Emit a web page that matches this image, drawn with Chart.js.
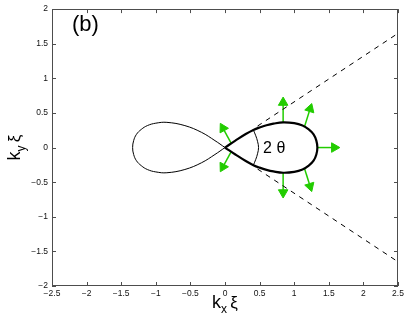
<!DOCTYPE html>
<html>
<head>
<meta charset="utf-8">
<script src="https://cdn.jsdelivr.net/npm/chart.js@4.4.1/dist/chart.umd.min.js"></script>
<style>
  html, body { margin: 0; padding: 0; background: #ffffff; }
  #wrap { width: 407px; height: 320px; }
</style>
</head>
<body>
<div id="wrap"><canvas id="c" width="407" height="320"></canvas></div>
<script>
// ---- Data ----
const xTickValues = [-2.5, -2, -1.5, -1, -0.5, 0, 0.5, 1, 1.5, 2, 2.5];
const yTickValues = [-2, -1.5, -1, -0.5, 0, 0.5, 1, 1.5, 2];

// left lobe (thin)
const leftLobeX = [0, -0.145, -0.34, -0.58, -0.84, -1.0, -1.12, -1.21, -1.28, -1.32, -1.335, -1.32, -1.28, -1.21, -1.12, -1.0, -0.84, -0.58, -0.34, -0.145, 0];
const leftLobeY = [0, 0.10, 0.22, 0.317, 0.364, 0.352, 0.318, 0.262, 0.19, 0.10, 0, -0.10, -0.19, -0.262, -0.318, -0.352, -0.364, -0.317, -0.22, -0.10, 0];

// right lobe (bold)
const rightLobeX = [0, 0.15, 0.30, 0.41, 0.50, 0.60, 0.70, 0.84, 1.00, 1.12, 1.21, 1.28, 1.32, 1.335, 1.32, 1.28, 1.21, 1.12, 1.00, 0.84, 0.70, 0.60, 0.50, 0.41, 0.30, 0.15, 0];
const rightLobeY = [0, 0.10, 0.195, 0.254, 0.29, 0.322, 0.345, 0.364, 0.352, 0.318, 0.262, 0.19, 0.10, 0, -0.10, -0.19, -0.262, -0.318, -0.352, -0.364, -0.345, -0.322, -0.29, -0.254, -0.195, -0.10, 0];

// dashed tangent lines
const upperDashX = [0.47, 2.5];
const upperDashY = [0.31, 1.65];
const lowerDashX = [0.47, 2.5];
const lowerDashY = [-0.31, -1.65];

// angle arc "2 theta"
const arcX = [0.41, 0.445, 0.47, 0.485, 0.47, 0.445, 0.41];
const arcY = [0.254, 0.17, 0.09, 0, -0.09, -0.17, -0.254];

// green normal arrows: base on the curve, head position
const arrowBaseX = [0.09, 0.09, 0.84, 0.84, 1.15, 1.15, 1.335];
const arrowBaseY = [0.06, -0.06, 0.364, -0.364, 0.305, -0.305, 0];
const arrowHeadX = [-0.03, -0.03, 0.84, 0.84, 1.23, 1.23, 1.58];
const arrowHeadY = [0.28, -0.28, 0.65, -0.65, 0.56, -0.56, 0];

const panelLabel = '(b)';
const angleLabel = '2 θ';

// ---- Build datasets ----
const pts = (xs, ys) => xs.map((x, i) => ({ x: x, y: ys[i] }));
const GREEN = '#22cc00';

const datasets = [];
datasets.push({ data: pts(leftLobeX, leftLobeY), showLine: true, borderColor: '#000', borderWidth: 1, pointRadius: 0, tension: 0.4, order: 2 });
datasets.push({ data: pts(rightLobeX, rightLobeY), showLine: true, borderColor: '#000', borderWidth: 2.2, pointRadius: 0, tension: 0.4, order: 1 });
datasets.push({ data: pts(upperDashX, upperDashY), showLine: true, borderColor: '#000', borderWidth: 1, borderDash: [5, 5], pointRadius: 0, order: 3 });
datasets.push({ data: pts(lowerDashX, lowerDashY), showLine: true, borderColor: '#000', borderWidth: 1, borderDash: [5, 5], pointRadius: 0, order: 3 });
datasets.push({ data: pts(arcX, arcY), showLine: true, borderColor: '#000', borderWidth: 1, pointRadius: 0, tension: 0.4, order: 3 });

for (let i = 0; i < arrowBaseX.length; i++) {
  datasets.push({
    data: [{ x: arrowBaseX[i], y: arrowBaseY[i] }, { x: arrowHeadX[i], y: arrowHeadY[i] }],
    showLine: true,
    borderColor: GREEN,
    borderWidth: 1.5,
    pointStyle: 'triangle',
    pointRadius: (ctx) => ctx.dataIndex === 1 ? 5.5 : 0,
    pointBackgroundColor: GREEN,
    pointBorderColor: GREEN,
    pointBorderWidth: 1,
    rotation: (ctx) => {
      const ch = ctx.chart;
      const d = ch.data.datasets[ctx.datasetIndex].data;
      const sx = ch.scales.x, sy = ch.scales.y;
      const dx = sx.getPixelForValue(d[1].x) - sx.getPixelForValue(d[0].x);
      const dy = sy.getPixelForValue(d[1].y) - sy.getPixelForValue(d[0].y);
      return Math.atan2(dx, -dy) * 180 / Math.PI;
    },
    order: 4
  });
}

const FONT = '"Liberation Sans", Arial, Helvetica, sans-serif';
const fmt = (v) => (v < 0 ? '\u2212' : '') + String(Math.abs(v));

// plugin: frame, inward ticks, text annotations
const decor = {
  id: 'decor',
  beforeDatasetsDraw(chart) {
    const { ctx, chartArea: a, scales: { x, y } } = chart;
    ctx.save();
    ctx.strokeStyle = '#4d4d4d';
    ctx.lineWidth = 1;
    ctx.beginPath();
    const L = 4;
    x.ticks.forEach(t => {
      const px = Math.round(x.getPixelForValue(t.value)) + 0.5;
      ctx.moveTo(px, a.bottom); ctx.lineTo(px, a.bottom - L);
      ctx.moveTo(px, a.top); ctx.lineTo(px, a.top + L);
    });
    y.ticks.forEach(t => {
      const py = Math.round(y.getPixelForValue(t.value)) + 0.5;
      ctx.moveTo(a.left, py); ctx.lineTo(a.left + L, py);
      ctx.moveTo(a.right, py); ctx.lineTo(a.right - L, py);
    });
    ctx.stroke();
    ctx.restore();
  },
  afterDraw(chart) {
    const { ctx, chartArea: a, scales: { x, y } } = chart;
    ctx.save();
    // frame
    ctx.strokeStyle = '#4d4d4d';
    ctx.lineWidth = 1;
    ctx.strokeRect(Math.round(a.left) + 0.5, Math.round(a.top) + 0.5, Math.round(a.right - a.left) - 1, Math.round(a.bottom - a.top) - 1);

    ctx.fillStyle = '#000';
    ctx.textBaseline = 'alphabetic';
    // panel label
    ctx.font = '22px ' + FONT;
    ctx.textAlign = 'left';
    ctx.fillText(panelLabel, 72, 31);
    // angle label
    ctx.font = '16px ' + FONT;
    ctx.fillText(angleLabel, x.getPixelForValue(0.55), y.getPixelForValue(-0.08));

    // axis titles: k_x xi, k_y xi
    const drawTitle = (sub) => {
      const parts = [
        { t: 'k', f: '18px ' + FONT, dy: 0 },
        { t: sub, f: '12px ' + FONT, dy: 5 },
        { t: ' ', f: '12px ' + FONT, dy: 0 },
        { t: 'ξ', f: '17px ' + FONT, dy: 0 }
      ];
      let w = 0;
      parts.forEach(p => { ctx.font = p.f; p.w = ctx.measureText(p.t).width; w += p.w; });
      let cx = -w / 2;
      parts.forEach(p => { ctx.font = p.f; ctx.fillText(p.t, cx, p.dy); cx += p.w; });
    };
    ctx.save();
    ctx.translate((a.left + a.right) / 2, 308);
    drawTitle('x');
    ctx.restore();
    ctx.save();
    ctx.translate(20, (a.top + a.bottom) / 2);
    ctx.rotate(-Math.PI / 2);
    drawTitle('y');
    ctx.restore();
    ctx.restore();
  }
};

new Chart(document.getElementById('c'), {
  type: 'scatter',
  data: { datasets: datasets },
  options: {
    responsive: false,
    animation: false,
    events: [],
    layout: { padding: { left: 0, right: 9, top: 8, bottom: 0 } },
    plugins: { legend: { display: false }, tooltip: { enabled: false } },
    scales: {
      x: {
        type: 'linear', min: -2.5, max: 2.5,
        afterBuildTicks: (s) => { s.ticks = xTickValues.map(v => ({ value: v })); },
        afterFit: (s) => { s.height = 34; },
        grid: { display: false, drawTicks: false },
        border: { display: false },
        ticks: { font: { family: FONT, size: 8.5 }, color: '#111', padding: 3, maxRotation: 0, autoSkip: false, callback: (v) => fmt(v) }
      },
      y: {
        type: 'linear', min: -2, max: 2,
        afterBuildTicks: (s) => { s.ticks = yTickValues.map(v => ({ value: v })); },
        afterFit: (s) => { s.width = 52; },
        grid: { display: false, drawTicks: false },
        border: { display: false },
        ticks: { font: { family: FONT, size: 8.5 }, color: '#111', padding: 4, autoSkip: false, callback: (v) => fmt(v) }
      }
    }
  },
  plugins: [decor]
});
</script>
</body>
</html>
